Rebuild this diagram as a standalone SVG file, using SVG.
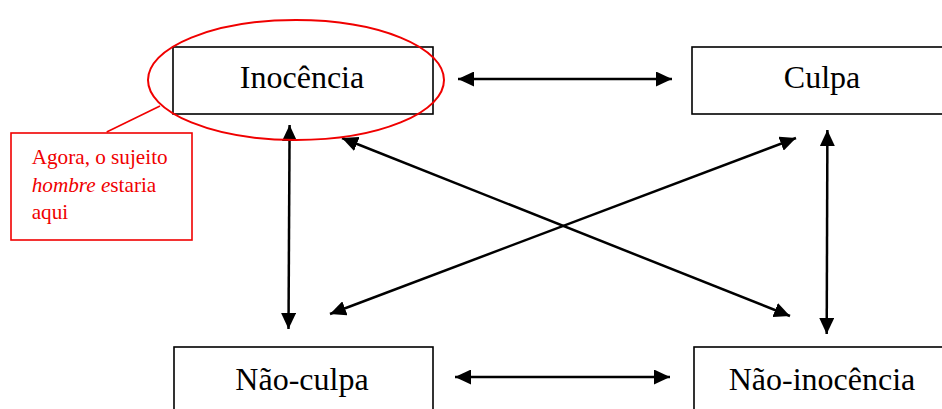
<svg xmlns="http://www.w3.org/2000/svg" width="942" height="409" viewBox="0 0 942 409">
<style>
.box{fill:#fff;stroke:#000;stroke-width:1.6}
.lbl{font-family:"Liberation Serif","Times New Roman",serif;font-size:32px;fill:#000;text-anchor:middle}
.con{fill:none;stroke:#000;stroke-width:2.5;marker-start:url(#ah);marker-end:url(#ah)}
.note{font-family:"Liberation Serif","Times New Roman",serif;font-size:21.2px;fill:#f00000}
</style>
<defs>
<marker id="ah" markerUnits="userSpaceOnUse" markerWidth="17" markerHeight="15" refX="16" refY="7.5" orient="auto-start-reverse">
<path d="M0,0 L16,7.5 L0,15 z" fill="#000"/>
</marker>
</defs>
<rect width="942" height="409" fill="#fff"/>
<g id="inocencia">
<rect class="box" x="173" y="47" width="260" height="67"/>
<text class="lbl" x="302" y="88">Inocência</text>
</g>
<g id="culpa">
<rect class="box" x="692" y="47" width="260" height="67"/>
<text class="lbl" x="822" y="88">Culpa</text>
</g>
<g id="nao-culpa">
<rect class="box" x="174" y="347" width="259" height="80"/>
<text class="lbl" x="302" y="390">Não-culpa</text>
</g>
<g id="nao-inocencia">
<rect class="box" x="694" y="347" width="260" height="80"/>
<text class="lbl" x="822" y="390">Não-inocência</text>
</g>
<g id="connectors">
<line class="con" x1="458" y1="79" x2="672" y2="79"/>
<line class="con" x1="455" y1="377" x2="670" y2="377"/>
<line class="con" x1="289.6" y1="125" x2="288.5" y2="329"/>
<line class="con" x1="827.4" y1="130" x2="826.7" y2="334"/>
<line class="con" x1="342" y1="138" x2="790" y2="316"/>
<line class="con" x1="330" y1="314" x2="796" y2="138"/>
</g>
<g id="callout">
<ellipse cx="296" cy="80" rx="148" ry="60" fill="none" stroke="#f00000" stroke-width="2"/>
<line x1="160" y1="106" x2="106.7" y2="132" stroke="#f00000" stroke-width="1.6"/>
<rect x="11" y="133" width="181" height="107" fill="#fff" stroke="#f00000" stroke-width="1.6"/>
<text class="note" x="31.7" y="164">Agora, o sujeito</text>
<text class="note" x="31.7" y="191.7"><tspan font-style="italic">hombre e</tspan>staria</text>
<text class="note" x="31.7" y="219.3">aqui</text>
</g>
</svg>
